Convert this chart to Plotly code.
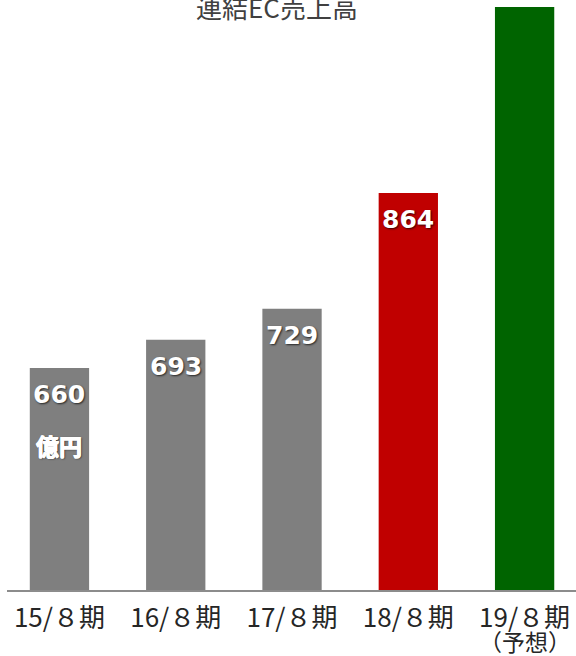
import plotly.graph_objects as go

# ---- data ----
categories = ["15/８期", "16/８期", "17/８期", "18/８期", "19/８期"]
forecast_note = "（予想）"
sales = [660, 693, 729, 864, 1100]
labels = ["660", "693", "729", "864", ""]
unit = "億円"
title = "連結EC売上高"
colors = ["#7f7f7f", "#7f7f7f", "#7f7f7f", "#c00000", "#006400"]

fig = go.Figure()
fig.add_trace(go.Bar(
    x=categories, y=sales, marker=dict(color=colors, line=dict(width=0)),
    width=0.51, hoverinfo="skip", textposition="none",
))

shadow = "1px 1px 2px rgba(0,0,0,0.7)"
fake_bold = "0.6px 0 0 white, -0.6px 0 0 white, 0 0.5px 0 white, " + shadow
num_font = dict(family="DejaVu Sans", size=25, color="white", weight="bold", shadow=shadow)
for c, v, t in zip(categories, sales, labels):
    if t:
        fig.add_annotation(x=c, y=v, text=t, showarrow=False, yanchor="top",
                           yshift=-10, font=num_font)
fig.add_annotation(x=categories[0], y=sales[0], text=unit, showarrow=False,
                   yanchor="top", yshift=-58,
                   font=dict(family="Noto Sans CJK JP Bold, Noto Sans CJK JP", size=23,
                             color="white", weight=700, shadow=fake_bold))
fig.add_annotation(x=categories[-1], y=0, yref="paper", text=forecast_note,
                   showarrow=False, yanchor="top", yshift=-32,
                   font=dict(family="Noto Sans CJK JP", size=23, color="#262626"))
fig.add_annotation(x=0.4745, xref="paper", y=1, yref="paper", text=title,
                   showarrow=False, yanchor="middle", yshift=1,
                   font=dict(family="Noto Sans CJK JP", size=26, color="#404040"))

fig.update_layout(
    width=576, height=656,
    margin=dict(l=7, r=0, t=7, b=66),
    paper_bgcolor="white", plot_bgcolor="white",
    showlegend=False,
    xaxis=dict(range=[-0.451, 4.442], showline=True, linecolor="#8c8c8c", linewidth=2,
               ticks="", showgrid=False, zeroline=False, ticklabelstandoff=4,
               tickfont=dict(family="Noto Sans CJK JP", size=26, color="#262626")),
    yaxis=dict(range=[401, 1081], visible=False, showgrid=False, zeroline=False),
)
fig.write_html("out.html")
